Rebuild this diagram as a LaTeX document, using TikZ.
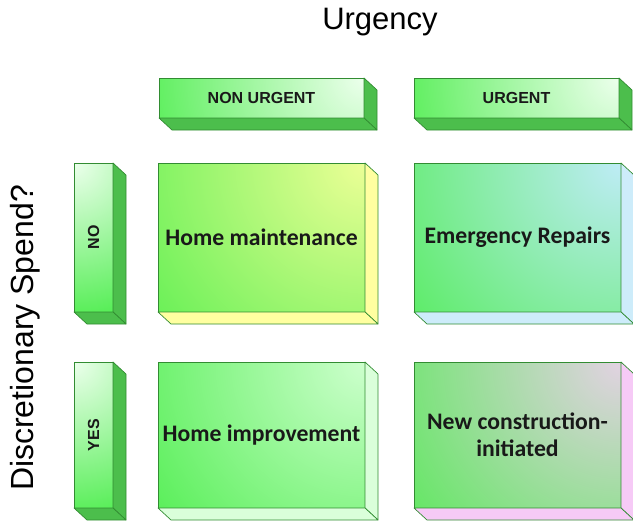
\documentclass[tikz,border=0pt]{standalone}
\usepackage{fontspec}
\setmainfont{Liberation Sans}
\newfontfamily\calib{Carlito}
\definecolor{fgreen}{RGB}{70,236,70}
\definecolor{edgegreen}{RGB}{50,140,50}
\definecolor{sidegreen}{RGB}{76,190,76}
\definecolor{hdrtint}{RGB}{236,255,236}
\definecolor{yelltint}{RGB}{236,255,150}
\definecolor{yellside}{RGB}{255,255,160}
\definecolor{bluetint}{RGB}{190,236,246}
\definecolor{blueside}{RGB}{205,236,250}
\definecolor{grntint}{RGB}{205,255,205}
\definecolor{grnside}{RGB}{218,255,218}
\definecolor{pinktint}{RGB}{226,210,226}
\definecolor{pinkside}{RGB}{246,202,246}
\newcommand\cubeside[2]{%
  \filldraw[fill=#2, draw=edgegreen, line width=0.7pt, line join=round]
    (#1.north east) -- ++(13,12) -- ([shift={(13,12)}]#1.south east) -- (#1.south east) -- cycle;
  \filldraw[fill=#2, draw=edgegreen, line width=0.7pt, line join=round]
    (#1.south west) -- (#1.south east) -- ([shift={(13,12)}]#1.south east) -- ([shift={(13,12)}]#1.south west) -- cycle;}
\begin{document}
\begin{tikzpicture}[x=1pt,y=-1pt,
  box/.style={draw=edgegreen, line width=0.7pt, fill=fgreen, inner sep=0pt, outer sep=0pt, anchor=north west, text=black!90},
  glow/.style n args={3}{path picture={\shade[inner color=#1, outer color=fgreen] (path picture bounding box.#2) circle (#3);}},
  hdr/.style={box, minimum width=205pt, minimum height=40pt, glow={hdrtint}{north east}{250pt}, font=\fontsize{16}{18}\selectfont\bfseries},
  side/.style={box, minimum width=39pt, glow={hdrtint}{north west}{170pt}, font=\fontsize{16}{18}\selectfont\bfseries},
  cell/.style={box, minimum width=207pt, align=center, font=\calib\fontsize{23.7}{27}\selectfont\bfseries},
  axis/.style={font=\fontsize{31}{36}\selectfont, anchor=base, inner sep=0pt}
]
\useasboundingbox (0,0) rectangle (633,522);
\node[axis] (urg) at (380,30) {Urgency};
\node[axis, font=\fontsize{32}{36}\selectfont, rotate=90] (disc) at (33,338) {Discretionary Spend?};

\node[hdr] (nonurg) at (159,78) {NON URGENT};
\node[hdr] (urgent) at (414,78) {URGENT};
\cubeside{nonurg}{sidegreen}
\cubeside{urgent}{sidegreen}

\node[side, minimum height=149pt] (no) at (74,163) {};
\node[side, minimum height=146pt] (yes) at (74,362) {};
\node[rotate=90, font=\fontsize{16}{18}\selectfont\bfseries, text=black!90] (nolbl) at (no.center) {NO};
\node[rotate=90, font=\fontsize{16}{18}\selectfont\bfseries, text=black!90] (yeslbl) at (yes.center) {YES};
\cubeside{no}{sidegreen}
\cubeside{yes}{sidegreen}

\node[cell, minimum height=149pt, glow={yelltint}{north east}{330pt}] (maint) at (158,163) {Home maintenance};
\node[cell, minimum height=149pt, glow={bluetint}{north east}{320pt}] (emerg) at (414,163) {Emergency Repairs};
\node[cell, minimum height=146pt, glow={grntint}{north east}{300pt}] (improv) at (158,362) {Home improvement};
\node[cell, minimum height=146pt, glow={pinktint}{north east}{320pt}] (newc) at (414,362) {New construction-\\initiated};
\cubeside{maint}{yellside}
\cubeside{emerg}{blueside}
\cubeside{improv}{grnside}
\cubeside{newc}{pinkside}
\end{tikzpicture}
\end{document}
